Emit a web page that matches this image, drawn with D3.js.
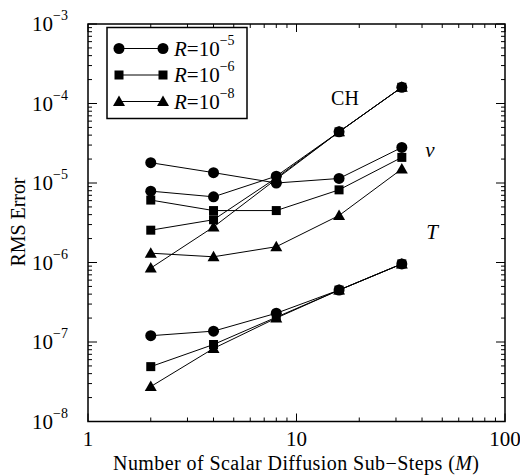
<!DOCTYPE html>
<html><head><meta charset="utf-8">
<script src="https://cdn.jsdelivr.net/npm/d3@7"></script>
<style>body{margin:0;background:#fff}svg{display:block}text{font-family:"Liberation Serif","Times New Roman",serif;fill:#000}</style>
</head><body><div id="chart"></div>
<script>
const xValues = [2, 4, 8, 16, 32];
// CH group
const chR5 = [7.9e-6, 6.7e-6, 1.22e-5, 4.4e-5, 1.6e-4];
const chR6 = [2.55e-6, 3.45e-6, 1.16e-5, 4.4e-5, 1.6e-4];
const chR8 = [8.5e-7, 2.8e-6, 1.12e-5, 4.4e-5, 1.6e-4];
// v group
const vR5 = [1.8e-5, 1.35e-5, 1.0e-5, 1.14e-5, 2.8e-5];
const vR6 = [6.1e-6, 4.5e-6, 4.5e-6, 8.2e-6, 2.1e-5];
const vR8 = [1.31e-6, 1.18e-6, 1.58e-6, 3.9e-6, 1.5e-5];
// T group
const tR5 = [1.2e-7, 1.37e-7, 2.3e-7, 4.5e-7, 9.6e-7];
const tR6 = [4.9e-8, 9.3e-8, 2.05e-7, 4.5e-7, 9.6e-7];
const tR8 = [2.75e-8, 8.3e-8, 2.0e-7, 4.5e-7, 9.6e-7];
const legendExps = ["-5", "-6", "-8"];
const markerTypes = ["circle", "square", "triangle"];
const xTickLabels = ["1", "10", "100"];
const yTickExps = ["-3", "-4", "-5", "-6", "-7", "-8"];
const groupLabels = ["CH", "v", "T"];

const series = [
  {vals: chR5, m: 0}, {vals: chR6, m: 1}, {vals: chR8, m: 2},
  {vals: vR5, m: 0}, {vals: vR6, m: 1}, {vals: vR8, m: 2},
  {vals: tR5, m: 0}, {vals: tR6, m: 1}, {vals: tR8, m: 2}
];

const W = 520, H = 476;
const L = 88, R = 505, T = 24, B = 421.5;
const svg = d3.select("#chart").append("svg").attr("width", W).attr("height", H);
const x = d3.scaleLog().domain([1, 100]).range([L, R]);
const y = d3.scaleLog().domain([1e-8, 1e-3]).range([B, T]);

// ticks
const tg = svg.append("g").attr("stroke", "#000").attr("stroke-width", 1);
const xt = [];
for (let d = 1; d < 100; d *= 10) for (let k = 1; k <= 9; k++) xt.push({v: d * k, major: k === 1});
xt.push({v: 100, major: true});
xt.forEach(t => {
  const px = x(t.v), len = t.major ? 8 : 4;
  tg.append("line").attr("x1", px).attr("x2", px).attr("y1", B).attr("y2", B - len);
  tg.append("line").attr("x1", px).attr("x2", px).attr("y1", T).attr("y2", T + len);
});
const yt = [];
for (let d = 1e-8; d < 1e-3 * 0.99; d *= 10) for (let k = 1; k <= 9; k++) yt.push({v: d * k, major: k === 1});
yt.push({v: 1e-3, major: true});
yt.forEach(t => {
  const py = y(t.v), len = t.major ? 9 : 4;
  tg.append("line").attr("x1", L).attr("x2", L + len).attr("y1", py).attr("y2", py);
  tg.append("line").attr("x1", R).attr("x2", R - len).attr("y1", py).attr("y2", py);
});
svg.append("rect").attr("x", L).attr("y", T).attr("width", R - L).attr("height", B - T)
  .attr("fill", "none").attr("stroke", "#000").attr("stroke-width", 1.5);

// tick labels
[1, 10, 100].forEach((v, i) => {
  svg.append("text").attr("x", x(v)).attr("y", 446).attr("text-anchor", "middle")
    .attr("font-size", 21).text(xTickLabels[i]);
});
[1e-3, 1e-4, 1e-5, 1e-6, 1e-7, 1e-8].forEach((v, i) => {
  const t = svg.append("text").attr("x", 32).attr("y", y(v) + 7).attr("font-size", 21);
  t.append("tspan").text("10");
  t.append("tspan").attr("font-size", 14).attr("dy", -11).text(yTickExps[i].replace("-", "\u2212"));
});

// axis titles
const xt2 = svg.append("text").attr("x", 296).attr("y", 470).attr("text-anchor", "middle").attr("font-size", 20)
  .attr("textLength", 366).attr("lengthAdjust", "spacing");
xt2.append("tspan").text("Number of Scalar Diffusion Sub\u2212Steps (");
xt2.append("tspan").attr("font-style", "italic").text("M");
xt2.append("tspan").text(")");
svg.append("text").attr("transform", "translate(25,222) rotate(-90)").attr("text-anchor", "middle")
  .attr("font-size", 20).attr("textLength", 89).attr("lengthAdjust", "spacing").text("RMS Error");

// markers
function drawMarker(g, type, cx, cy) {
  if (type === "circle") g.append("circle").attr("cx", cx).attr("cy", cy).attr("r", 5.5);
  else if (type === "square") g.append("rect").attr("x", cx - 4.5).attr("y", cy - 4.5).attr("width", 9).attr("height", 9);
  else g.append("path").attr("d", `M${cx},${cy - 6}L${cx + 6},${cy + 4.5}L${cx - 6},${cy + 4.5}Z`);
}

const line = d3.line().x((d, i) => x(xValues[i])).y(d => y(d));
const dg = svg.append("g");
series.forEach(s => {
  dg.append("path").attr("d", line(s.vals)).attr("fill", "none").attr("stroke", "#000").attr("stroke-width", 1);
});
series.forEach(s => {
  const g = dg.append("g").attr("fill", "#000");
  s.vals.forEach((v, i) => drawMarker(g, markerTypes[s.m], x(xValues[i]), y(v)));
});

// group labels
svg.append("text").attr("x", 345).attr("y", 105).attr("text-anchor", "middle").attr("font-size", 20).text(groupLabels[0]);
svg.append("text").attr("x", 430).attr("y", 157).attr("text-anchor", "middle").attr("font-size", 21).attr("font-style", "italic").text(groupLabels[1]);
svg.append("text").attr("x", 432).attr("y", 239).attr("text-anchor", "middle").attr("font-size", 21).attr("font-style", "italic").text(groupLabels[2]);

// legend
const lg = svg.append("g");
lg.append("rect").attr("x", 107).attr("y", 27.5).attr("width", 140).attr("height", 91)
  .attr("fill", "#fff").attr("stroke", "#000").attr("stroke-width", 1.5);
[48.5, 75, 101.5].forEach((ly, i) => {
  lg.append("line").attr("x1", 119).attr("x2", 163).attr("y1", ly).attr("y2", ly).attr("stroke", "#000").attr("stroke-width", 1);
  const g = lg.append("g").attr("fill", "#000");
  drawMarker(g, markerTypes[i], 119, ly);
  drawMarker(g, markerTypes[i], 163, ly);
  const t = lg.append("text").attr("x", 174).attr("y", ly + 7).attr("font-size", 21);
  t.append("tspan").attr("font-style", "italic").text("R");
  t.append("tspan").text("=10");
  t.append("tspan").attr("font-size", 14).attr("dy", -11).text(legendExps[i].replace("-", "\u2212"));
});
</script></body></html>
